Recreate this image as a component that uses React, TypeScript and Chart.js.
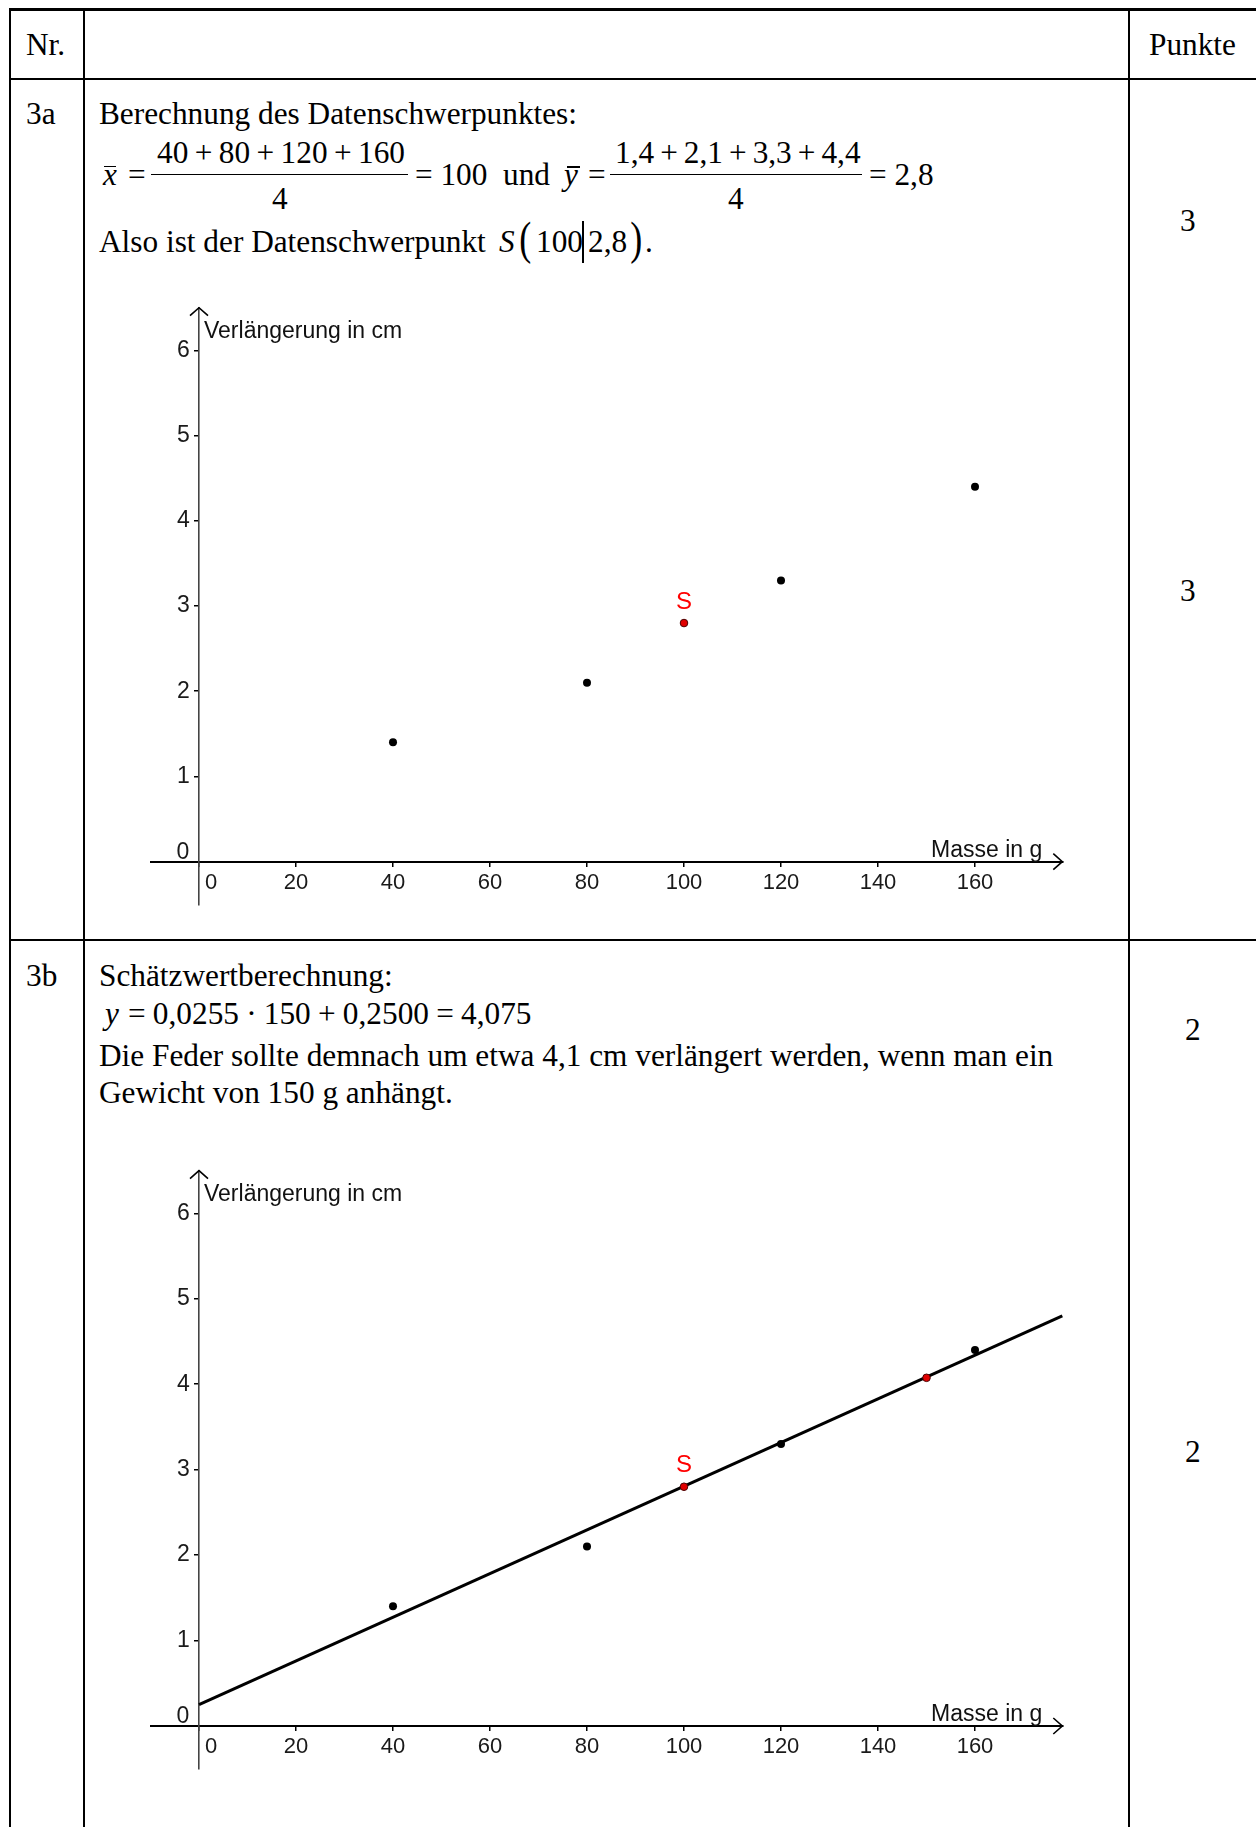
import React, { useEffect, useRef } from 'react';
import { Chart, registerables } from 'chart.js';

Chart.register(...registerables);

// ---- data ----
const MASSES = [40, 80, 120, 160];
const EXTENSIONS = [1.4, 2.1, 3.3, 4.4];
const CENTROID_X = [100];
const CENTROID_Y = [2.8];
const ESTIMATE_X = [150];
const ESTIMATE_Y = [4.075];
const LINE_X = [0, 178];
const LINE_Y = [0.25, 4.8];
const X_TICKS = [0, 20, 40, 60, 80, 100, 120, 140, 160];
const Y_TICKS = [0, 1, 2, 3, 4, 5, 6];
const X_RANGE = [-10, 178];
const Y_RANGE = [-0.5, 6.5];
const X_TITLE = 'Masse in g';
const Y_TITLE = 'Verlängerung in cm';
const CENTROID_LABEL = 'S';

const SANS = '"Liberation Sans", Arial, sans-serif';
const SERIF = '"Liberation Serif", "Times New Roman", serif';

const decorPlugin = {
  id: 'axisDecor',
  afterDraw(chart: any) {
    const { ctx, scales } = chart;
    const x = scales.x;
    const y = scales.y;
    const x0 = x.getPixelForValue(0);
    const y0 = y.getPixelForValue(0);
    const xEnd = x.getPixelForValue(X_RANGE[1]);
    const yTop = y.getPixelForValue(Y_RANGE[1]);
    ctx.save();
    ctx.strokeStyle = '#000';
    ctx.lineWidth = 1.6;
    ctx.beginPath();
    ctx.moveTo(x0 - 9, yTop + 8);
    ctx.lineTo(x0, yTop);
    ctx.lineTo(x0 + 9, yTop + 8);
    ctx.stroke();
    ctx.beginPath();
    ctx.moveTo(xEnd - 9, y0 - 8);
    ctx.lineTo(xEnd, y0);
    ctx.lineTo(xEnd - 9, y0 + 8);
    ctx.stroke();

    ctx.fillStyle = '#111';
    ctx.textBaseline = 'middle';
    ctx.font = `23px ${SANS}`;
    ctx.textAlign = 'left';
    ctx.fillText(Y_TITLE, x0 + 5, yTop + 24);
    ctx.textAlign = 'right';
    ctx.fillText(X_TITLE, xEnd - 20, y0 - 11);

    ctx.textAlign = 'center';
    ctx.fillStyle = '#1a1a1a';
    ctx.font = `23px ${SANS}`;
    ctx.fillText(String(Y_TICKS[0]), x0 - 16, y0 - 9);
    ctx.font = `22px ${SANS}`;
    ctx.fillText(String(X_TICKS[0]), x0 + 12, y0 + 21);

    chart.data.datasets.forEach((ds: any, i: number) => {
      if (ds.label === 'centroid') {
        const pt = chart.getDatasetMeta(i).data[0];
        ctx.fillStyle = '#ff0000';
        ctx.font = `24px ${SANS}`;
        ctx.fillText(CENTROID_LABEL, pt.x, pt.y - 21);
      }
    });
    ctx.restore();
  },
};

function makeConfig(showLine: boolean, padding: any): any {
  const pointsDs = {
    label: 'data',
    data: MASSES.map((m, i) => ({ x: m, y: EXTENSIONS[i] })),
    pointRadius: 4,
    pointBackgroundColor: '#000',
    pointBorderColor: '#000',
    pointBorderWidth: 0,
    order: 1,
  };
  const centroidDs = {
    label: 'centroid',
    data: CENTROID_X.map((v, i) => ({ x: v, y: CENTROID_Y[i] })),
    pointRadius: 3.8,
    pointBackgroundColor: '#e00000',
    pointBorderColor: '#4a0000',
    pointBorderWidth: 1,
    order: 0,
  };
  const datasets: any[] = [pointsDs, centroidDs];
  if (showLine) {
    datasets.push({
      label: 'estimate',
      data: ESTIMATE_X.map((v, i) => ({ x: v, y: ESTIMATE_Y[i] })),
      pointRadius: 3.8,
      pointBackgroundColor: '#e00000',
      pointBorderColor: '#4a0000',
      pointBorderWidth: 1,
      order: 0,
    });
    datasets.push({
      type: 'line',
      label: 'regression',
      data: LINE_X.map((v, i) => ({ x: v, y: LINE_Y[i] })),
      borderColor: '#000',
      borderWidth: 3,
      pointRadius: 0,
      fill: false,
      clip: false,
      order: 5,
    });
  }
  const tickFont = (size: number) => ({ family: SANS, size, lineHeight: 1.2 });
  const buildY = (s: any) => {
    s.ticks = Y_TICKS.map((v) => ({ value: v }));
  };
  return {
    type: 'scatter',
    data: { datasets },
    options: {
      animation: false,
      responsive: false,
      devicePixelRatio: 1,
      layout: { padding },
      plugins: { legend: { display: false }, tooltip: { enabled: false }, title: { display: false } },
      scales: {
        x: {
          type: 'linear',
          min: X_RANGE[0],
          max: X_RANGE[1],
          position: { y: 0 },
          afterBuildTicks: (s: any) => {
            s.ticks = X_TICKS.map((v) => ({ value: v }));
          },
          afterFit: (s: any) => {
            s.height = 0;
          },
          ticks: {
            autoSkip: false,
            maxRotation: 0,
            padding: 4,
            color: '#1a1a1a',
            font: tickFont(22),
            callback: (v: any) => (v === X_TICKS[0] ? '' : String(v)),
          },
          grid: { display: true, drawOnChartArea: false, drawTicks: true, tickLength: 4, color: '#000', lineWidth: 1.5 },
          border: { display: true, color: '#000', width: 2 },
        },
        // tick labels of the vertical axis (placed just left of the axis line)
        y: {
          type: 'linear',
          min: Y_RANGE[0],
          max: Y_RANGE[1],
          position: { x: -1.9 },
          afterBuildTicks: buildY,
          afterFit: (s: any) => {
            s.width = 0;
          },
          ticks: {
            autoSkip: false,
            color: '#1a1a1a',
            font: tickFont(23),
            callback: (v: any) => (v === Y_TICKS[0] ? '' : String(v)),
          },
          grid: { display: false },
          border: { display: false },
        },
        // the vertical axis line with its tick marks
        yLine: {
          type: 'linear',
          axis: 'y',
          min: Y_RANGE[0],
          max: Y_RANGE[1],
          position: { x: 0 },
          afterBuildTicks: buildY,
          afterFit: (s: any) => {
            s.width = 0;
          },
          ticks: { autoSkip: false, font: tickFont(23), callback: () => '' },
          grid: { display: true, drawOnChartArea: false, drawTicks: true, tickLength: 4, color: '#000', lineWidth: 1.5 },
          border: { display: true, color: '#444', width: 1.6 },
        },
      },
    },
    plugins: [decorPlugin],
  };
}

function SpringChart(props: { left: number; top: number; width: number; height: number; padding: any; showLine: boolean }) {
  const ref = useRef<HTMLCanvasElement>(null);
  useEffect(() => {
    const chart = new Chart(ref.current as HTMLCanvasElement, makeConfig(props.showLine, props.padding));
    return () => chart.destroy();
  }, []);
  return (
    <canvas
      ref={ref}
      width={props.width}
      height={props.height}
      style={{ position: 'absolute', left: props.left, top: props.top, width: props.width, height: props.height }}
    />
  );
}

function T(props: { x: number; base: number; size?: number; italic?: boolean; ws?: number; tf?: string; children: any }) {
  const size = props.size || 31.3;
  return (
    <div
      style={{
        position: 'absolute',
        left: props.x,
        top: props.base - 0.8375 * size,
        fontSize: size,
        lineHeight: `${size}px`,
        fontFamily: SERIF,
        fontStyle: props.italic ? 'italic' : 'normal',
        whiteSpace: 'pre',
        wordSpacing: props.ws || 0,
        transform: props.tf,
        transformOrigin: 'center center',
        color: '#000',
      }}
    >
      {props.children}
    </div>
  );
}

function Line(props: { l: number; t: number; w: number; h: number }) {
  return <div style={{ position: 'absolute', left: props.l, top: props.t, width: props.w, height: props.h, background: '#000' }} />;
}

export default function App() {
  return (
    <div style={{ position: 'absolute', left: 0, top: 0, width: 1256, height: 1827, overflow: 'hidden', background: '#fff' }}>
      {/* table grid */}
      <Line l={9} t={8} w={1247} h={3} />
      <Line l={9} t={78} w={1247} h={2} />
      <Line l={9} t={939} w={1247} h={2} />
      <Line l={9} t={8} w={2} h={1819} />
      <Line l={83} t={8} w={2} h={1819} />
      <Line l={1128} t={8} w={2} h={1819} />

      {/* header */}
      <T x={26} base={55}>Nr.</T>
      <T x={1149} base={55}>Punkte</T>

      {/* row 3a */}
      <T x={26} base={124.5}>3a</T>
      <T x={99} base={124.5}>Berechnung des Datenschwerpunktes:</T>
      <T x={103} base={185.5} italic>x</T>
      <Line l={104} t={165.5} w={12} h={1.5} />
      <T x={128} base={185.5}>=</T>
      <T x={157} base={163} ws={-1.4}>40 + 80 + 120 + 160</T>
      <Line l={151} t={173.5} w={257} h={1.5} />
      <T x={272} base={209}>4</T>
      <T x={415} base={185.5}>{'= 100  und'}</T>
      <T x={564} base={185.5} italic>y</T>
      <Line l={567} t={166} w={13} h={1.5} />
      <T x={588} base={185.5}>=</T>
      <T x={615} base={163} ws={-1.8}>1,4 + 2,1 + 3,3 + 4,4</T>
      <Line l={610} t={173.5} w={252} h={1.5} />
      <T x={728} base={209}>4</T>
      <T x={869} base={185.5}>= 2,8</T>
      <T x={99} base={252}>Also ist der Datenschwerpunkt</T>
      <T x={499} base={252} italic>S</T>
      <T x={520} base={249} tf="scale(1.15, 1.5)">(</T>
      <T x={536} base={252}>100</T>
      <Line l={582} t={221} w={1.5} h={42} />
      <T x={588} base={252}>2,8</T>
      <T x={631} base={249} tf="scale(1.15, 1.5)">)</T>
      <T x={645} base={252}>.</T>
      <T x={1180} base={231}>3</T>
      <T x={1180} base={601}>3</T>

      <SpringChart
        left={90}
        top={280}
        width={1030}
        height={655}
        showLine={false}
        padding={{ left: 60.5, right: 57.7, top: 27.7, bottom: 30.7 }}
      />

      {/* row 3b */}
      <T x={26} base={986}>3b</T>
      <T x={99} base={986}>Schätzwertberechnung:</T>
      <T x={105} base={1024} italic>y</T>
      <T x={128} base={1024} ws={-0.6}>= 0,0255 · 150 + 0,2500 = 4,075</T>
      <T x={99} base={1066}>Die Feder sollte demnach um etwa 4,1 cm verlängert werden, wenn man ein</T>
      <T x={99} base={1103}>Gewicht von 150 g anhängt.</T>
      <T x={1185} base={1040}>2</T>
      <T x={1185} base={1462}>2</T>

      <SpringChart
        left={90}
        top={1145}
        width={1030}
        height={682}
        showLine={true}
        padding={{ left: 60.5, right: 57.7, top: 25.6, bottom: 58.3 }}
      />
    </div>
  );
}
